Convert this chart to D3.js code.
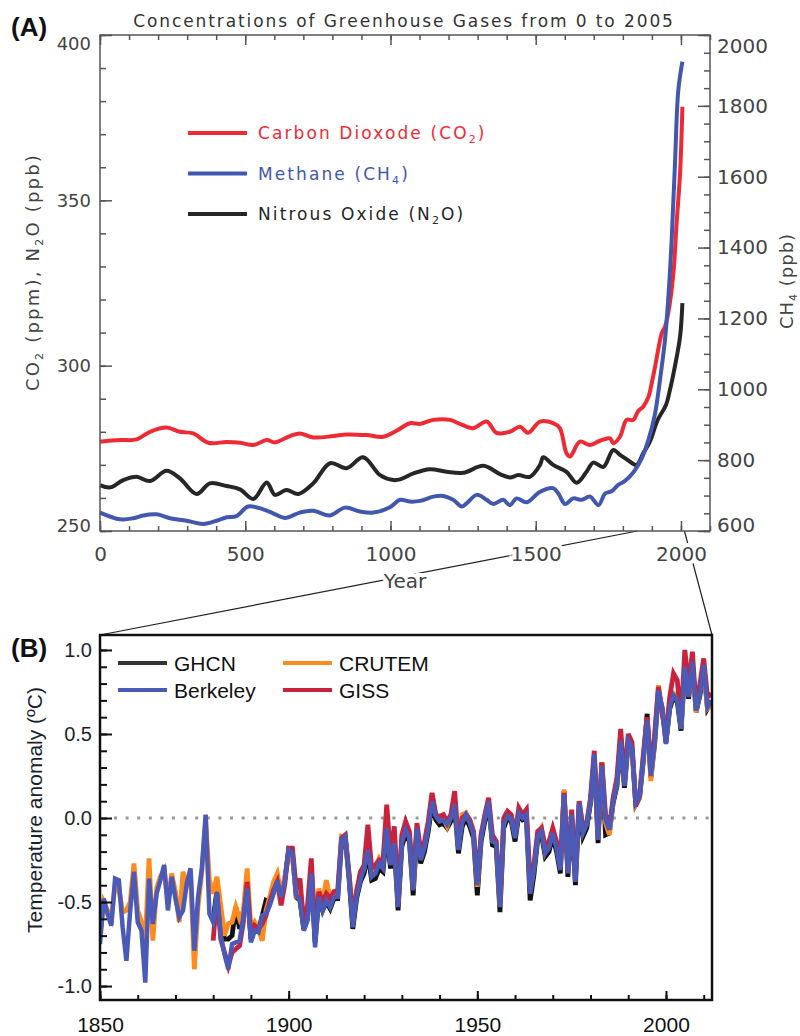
<!DOCTYPE html>
<html>
<head>
<meta charset="utf-8">
<style>
  body { margin: 0; background: #fff; }
</style>
<title>Greenhouse gases and temperature</title>
</head>
<body>
<script src="https://cdn.jsdelivr.net/npm/d3@7"></script>
<script>

// ---- Panel A data ----
var co2Year = [0,69,126,172,229,275,321,373,436,482,528,574,602,654,688,734,803,849,918,975,
  1021,1067,1102,1147,1205,1239,1285,1331,1365,1411,1446,1474,1515,1560,1583,1606,1618,1652,1687,1721,
  1756,1767,1790,1813,1836,1853,1870,1888,1900,1911,1934,1945,1956,1974,1985,1997,2005];
var co2Value = [277.0,277.5,277.7,280.0,281.3,280.0,279.5,276.7,276.9,276.7,276.0,277.5,276.8,278.7,279.5,278.3,278.7,279.2,279.0,278.5,
  280.3,282.6,282.4,283.6,283.6,282.4,281.1,283.1,279.7,280.0,281.5,279.7,283.1,282.6,281.1,273.5,272.5,277.0,276.0,277.3,
  278.0,276.5,278.5,283.6,283.6,286.3,287.6,290.5,295.0,299.7,309.8,311.8,315.8,327.9,343.0,358.2,378.3];

var ch4Year = [0,69,115,149,195,241,298,356,401,436,470,510,562,596,636,688,734,792,843,895,
  941,998,1033,1067,1102,1147,1182,1216,1245,1262,1297,1331,1354,1388,1411,1434,1469,1515,1560,1578,
  1601,1629,1658,1687,1716,1739,1761,1784,1805,1836,1865,1888,1910,1930,1945,1956,1968,1979,1991,2005];
var ch4Value = [652,633,636,644,647,636,629,620,629,639,642,669,661,650,637,652,657,644,666,655,
  652,667,688,683,685,697,699,688,669,678,702,688,676,688,673,692,681,711,721,706,
  676,692,688,697,673,706,712,730,740,765,805,857,928,1040,1139,1252,1421,1628,1845,1925];

var n2oYear = [0,35,80,126,172,229,275,333,378,436,482,528,574,602,642,683,734,792,849,906,
  964,1010,1033,1079,1136,1193,1251,1320,1377,1411,1440,1480,1515,1526,1560,1606,1641,1675,1698,1733,
  1767,1790,1813,1847,1870,1893,1920,1948,1962,1979,1997,2005];
var n2oValue = [263.9,263.2,265.4,266.4,265.1,268.2,265.9,261.2,264.4,263.6,262.6,259.7,264.7,260.9,262.4,261.2,264.4,270.5,269.0,272.3,
  266.9,265.4,265.6,267.4,268.7,267.9,267.6,269.7,267.2,266.2,266.9,266.4,270.0,272.3,270.0,267.9,264.6,267.9,270.7,269.4,
  274.5,273.0,271.7,270.0,273.5,277.0,283.6,288.0,292.6,299.7,308.8,318.9];

var aLeftTicks = [250, 300, 350, 400];
var aRightTicks = [600, 800, 1000, 1200, 1400, 1600, 1800, 2000];
var aYearTicks = [0, 500, 1000, 1500, 2000];

// ---- Panel B data: annual anomalies (ºC) ----
var berkeleyStart = 1850;
var berkeley = [
  -0.75,-0.48,-0.57,-0.64,-0.36,-0.37,-0.65,-0.85,-0.55,-0.32,
  -0.62,-0.67,-0.98,-0.36,-0.63,-0.45,-0.37,-0.28,-0.55,-0.35,
  -0.48,-0.59,-0.55,-0.39,-0.30,-0.79,-0.47,-0.30,0.02,-0.57,
  -0.62,-0.44,-0.70,-0.81,-0.90,-0.75,-0.74,-0.73,-0.59,-0.42,
  -0.74,-0.67,-0.68,-0.58,-0.57,-0.52,-0.45,-0.37,-0.47,-0.37,
  -0.19,-0.21,-0.46,-0.49,-0.67,-0.61,-0.33,-0.77,-0.47,-0.55,
  -0.49,-0.53,-0.47,-0.47,-0.13,-0.11,-0.35,-0.65,-0.47,-0.37,
  -0.30,-0.19,-0.35,-0.33,-0.27,-0.30,-0.06,-0.28,-0.15,-0.53,
  -0.15,-0.07,-0.12,-0.43,-0.06,-0.25,-0.18,-0.06,0.10,0.01,
  -0.02,-0.01,-0.04,0.00,0.08,-0.19,-0.03,0.02,-0.03,-0.10,
  -0.40,-0.12,0.00,0.10,-0.14,-0.15,-0.53,-0.04,0.01,0.00,
  -0.12,0.03,0.00,0.02,-0.45,-0.32,-0.11,-0.08,-0.21,-0.18,
  -0.09,-0.18,-0.31,0.14,-0.33,0.02,-0.38,0.09,-0.09,-0.04,
  0.10,0.38,-0.13,0.31,-0.01,-0.07,0.10,0.20,0.46,0.19,
  0.46,0.42,0.09,0.13,0.35,0.58,0.25,0.45,0.76,0.66,
  0.44,0.66,0.73,0.70,0.53,0.90,0.72,0.93,0.64,0.74,
  0.91,0.66,0.70];

var crutemStart = 1850;
var crutem = [
  -0.70,-0.50,-0.55,-0.60,-0.40,-0.42,-0.56,-0.55,-0.50,-0.27,
  -0.55,-0.62,-0.73,-0.24,-0.73,-0.42,-0.35,-0.31,-0.50,-0.33,
  -0.44,-0.62,-0.32,-0.40,-0.33,-0.90,-0.52,-0.32,-0.02,-0.37,
  -0.45,-0.35,-0.52,-0.70,-0.63,-0.62,-0.53,-0.60,-0.55,-0.30,
  -0.66,-0.62,-0.66,-0.73,-0.55,-0.47,-0.38,-0.33,-0.45,-0.35,
  -0.22,-0.24,-0.45,-0.42,-0.60,-0.58,-0.30,-0.63,-0.42,-0.50,
  -0.37,-0.48,-0.44,-0.45,-0.11,-0.12,-0.33,-0.58,-0.43,-0.35,
  -0.30,-0.14,-0.32,-0.30,-0.24,-0.27,-0.05,-0.26,-0.12,-0.50,
  -0.12,-0.05,-0.10,-0.42,-0.05,-0.22,-0.16,-0.04,0.14,0.02,
  0.00,0.00,-0.05,0.01,0.09,-0.17,0.02,0.03,-0.02,-0.09,
  -0.41,-0.10,0.01,0.09,-0.13,-0.14,-0.52,-0.02,0.03,0.00,
  -0.10,0.04,0.01,0.03,-0.42,-0.29,-0.10,-0.06,-0.20,-0.15,
  -0.08,-0.16,-0.29,0.17,-0.31,0.03,-0.36,0.10,-0.07,-0.03,
  0.11,0.37,-0.12,0.33,-0.03,-0.10,0.11,0.21,0.47,0.21,
  0.47,0.41,0.08,0.12,0.36,0.59,0.22,0.46,0.79,0.63,
  0.46,0.68,0.74,0.72,0.55,0.88,0.73,0.91,0.63,0.76,
  0.89,0.65,0.67];

var ghcnStart = 1880;
var ghcn = [
  -0.60,-0.43,-0.66,-0.72,-0.72,-0.70,-0.53,-0.66,-0.57,-0.41,
  -0.72,-0.66,-0.67,-0.58,-0.49,-0.50,-0.44,-0.36,-0.46,-0.36,
  -0.19,-0.21,-0.47,-0.49,-0.66,-0.60,-0.33,-0.74,-0.47,-0.55,
  -0.50,-0.54,-0.48,-0.48,-0.15,-0.12,-0.36,-0.66,-0.48,-0.38,
  -0.33,-0.21,-0.37,-0.36,-0.30,-0.32,-0.08,-0.30,-0.17,-0.55,
  -0.17,-0.09,-0.14,-0.46,-0.08,-0.27,-0.20,-0.08,0.08,-0.01,
  -0.04,-0.03,-0.06,-0.02,0.06,-0.21,-0.05,0.00,-0.05,-0.12,
  -0.46,-0.14,-0.02,0.08,-0.16,-0.17,-0.56,-0.06,0.00,-0.02,
  -0.14,0.02,-0.01,0.00,-0.49,-0.34,-0.13,-0.10,-0.23,-0.20,
  -0.11,-0.20,-0.33,0.16,-0.35,0.01,-0.40,0.08,-0.11,-0.06,
  0.09,0.36,-0.15,0.33,-0.10,-0.09,0.09,0.19,0.45,0.18,
  0.45,0.41,0.08,0.12,0.34,0.62,0.24,0.44,0.75,0.65,
  0.45,0.65,0.72,0.69,0.52,0.89,0.71,0.92,0.63,0.73,
  0.90,0.65,0.69];

var gissStart = 1880;
var giss = [
  -0.73,-0.45,-0.72,-0.80,-0.88,-0.80,-0.78,-0.76,-0.62,-0.38,
  -0.70,-0.64,-0.66,-0.63,-0.58,-0.50,-0.43,-0.38,-0.52,-0.39,
  -0.18,-0.18,-0.42,-0.36,-0.64,-0.52,-0.24,-0.70,-0.44,-0.50,
  -0.45,-0.48,-0.44,-0.43,-0.12,-0.10,-0.33,-0.60,-0.44,-0.32,
  -0.28,-0.04,-0.30,-0.28,-0.25,-0.26,0.08,-0.22,-0.05,-0.48,
  -0.10,-0.02,-0.08,-0.38,-0.03,-0.20,-0.14,-0.02,0.15,0.02,
  0.01,0.02,-0.02,0.02,0.16,-0.14,0.00,0.02,-0.01,-0.08,
  -0.38,-0.10,0.02,0.12,-0.10,-0.14,-0.50,0.00,0.04,0.02,
  -0.10,0.06,0.02,0.05,-0.38,-0.28,-0.08,-0.06,-0.17,-0.14,
  -0.06,-0.14,-0.28,0.15,-0.30,0.05,-0.35,0.10,-0.06,-0.03,
  0.12,0.40,-0.10,0.33,0.02,-0.05,0.12,0.24,0.53,0.22,
  0.50,0.45,0.07,0.13,0.38,0.60,0.28,0.50,0.78,0.62,
  0.50,0.72,0.86,0.82,0.58,1.00,0.78,0.99,0.66,0.80,
  0.95,0.72,0.74];

var bYTicks = [-1.0, -0.5, 0.0, 0.5, 1.0];
var bXTicks = [1850, 1900, 1950, 2000];

// ---- Layout ----
var A = {left: 100, right: 710, top: 35, bottom: 531};
var B = {left: 100, right: 712, top: 635, bottom: 1000};
var fontA = '"DejaVu Sans", sans-serif';
var fontB = '"Liberation Sans", Arial, sans-serif';

var svg = d3.select("body").append("svg")
    .attr("width", 800)
    .attr("height", 1036);

// Scales
var xA = d3.scaleLinear().domain([0, 2100]).range([A.left, A.right]);
var yL = d3.scaleLinear().domain([250, 400]).range([A.bottom, A.top]);
var yR = d3.scaleLinear().domain([600, 2000]).range([A.bottom, A.top]);
var xB = d3.scaleLinear().domain([1850, 2012.2]).range([B.left, B.right]);
var yB = d3.scaleLinear().domain([-1.083, 1.089]).range([B.bottom, B.top]);

// ticks: one call for the short ones, one for the long ones with labels
function ticks(g, axisFn, scale, minor, major, minorLen, majorLen, pad, fmt) {
  g.append("g").call(axisFn(scale).tickValues(minor).tickSize(-minorLen).tickFormat(""))
    .call(s => s.select(".domain").remove());
  return g.append("g").call(axisFn(scale).tickValues(major).tickSize(-majorLen).tickPadding(pad).tickFormat(fmt))
    .call(s => s.select(".domain").remove());
}

// ---- Zoom lines from A to B (drawn first, labels sit on top) ----
svg.append("line")
    .attr("x1", xA(1850)).attr("y1", A.bottom)
    .attr("x2", B.left).attr("y2", B.top)
    .attr("stroke", "#222").attr("stroke-width", 1.2);
svg.append("line")
    .attr("x1", xA(2012)).attr("y1", A.bottom)
    .attr("x2", B.right).attr("y2", B.top)
    .attr("stroke", "#222").attr("stroke-width", 1.2);

// ================= Panel A =================
var gA = svg.append("g");

var line = d3.line().curve(d3.curveCatmullRom);

function seriesA(years, values, y, color) {
  gA.append("path")
    .attr("d", line(years.map((yr, i) => [xA(yr), y(values[i])])))
    .attr("fill", "none")
    .attr("stroke", color)
    .attr("stroke-width", 4)
    .attr("stroke-linejoin", "round")
    .attr("stroke-linecap", "butt");
}
seriesA(n2oYear, n2oValue, yL, "#262626");
seriesA(co2Year, co2Value, yL, "#ee2b35");
seriesA(ch4Year, ch4Value, yR, "#4257ae");

// frame
gA.append("rect")
    .attr("x", A.left).attr("y", A.top)
    .attr("width", A.right - A.left).attr("height", A.bottom - A.top)
    .attr("fill", "none").attr("stroke", "#555").attr("stroke-width", 1.5);

var axisColor = "#555";

var botA = gA.append("g").attr("transform", `translate(0,${A.bottom})`);
var botALab = ticks(botA, d3.axisBottom, xA, d3.range(0, 2101, 100), aYearTicks, 5, 10, 16, d3.format("d"));
var topA = gA.append("g").attr("transform", `translate(0,${A.top})`);
ticks(topA, d3.axisTop, xA, d3.range(0, 2101, 100), aYearTicks, 5, 10, 4, "");
var lefA = gA.append("g").attr("transform", `translate(${A.left},0)`);
var lefALab = ticks(lefA, d3.axisLeft, yL, d3.range(250, 401, 10), aLeftTicks, 6, 12, 9, d3.format("d"));
var rigA = gA.append("g").attr("transform", `translate(${A.right},0)`);
var rigALab = ticks(rigA, d3.axisRight, yR, d3.range(600, 2001, 50), aRightTicks, 6, 12, 7, d3.format("d"));

[botA, topA, lefA, rigA].forEach(g => g.selectAll("line").attr("stroke", axisColor).attr("stroke-width", 1.5));

botALab.selectAll("text")
    .style("font-family", fontA).style("font-size", "20px").attr("fill", "#444")
    .attr("stroke", "#fff").attr("stroke-width", 8).attr("paint-order", "stroke");
lefALab.selectAll("text")
    .style("font-family", fontA).style("font-size", "18px").attr("fill", "#444")
    .attr("dy", d => d == 400 ? "0.78em" : d == 250 ? "0em" : "0.32em");
rigALab.selectAll("text")
    .style("font-family", fontA).style("font-size", "20px").attr("fill", "#444")
    .attr("dy", d => d == 2000 ? "0.85em" : d == 600 ? "0em" : "0.32em");

// "Year" sits on the zoom line
svg.append("text")
    .attr("x", 405).attr("y", 588)
    .attr("text-anchor", "middle")
    .style("font-family", fontA).style("font-size", "20px")
    .attr("fill", "#444")
    .attr("stroke", "#fff").attr("stroke-width", 8).attr("paint-order", "stroke")
    .text("Year");

// title + panel letter
svg.append("text")
    .attr("x", 404).attr("y", 27)
    .attr("text-anchor", "middle")
    .style("font-family", fontA).style("font-size", "17px")
    .style("letter-spacing", "1.9px")
    .attr("fill", "#333")
    .text("Concentrations of Greenhouse Gases from 0 to 2005");

svg.append("text")
    .attr("x", 11).attr("y", 36)
    .style("font-family", fontB).style("font-size", "26px").style("font-weight", "bold")
    .attr("fill", "#111")
    .text("(A)");

// text with subscripts: parts = [[string, isSub], ...]; a sub part is always followed by a normal one
function subText(sel, parts, subSize) {
  var shift = 0;
  parts.forEach(p => {
    var t = sel.append("tspan").text(p[0]);
    if (p[1]) {
      t.attr("dy", 4).style("font-size", subSize);
      shift = -4;
    } else if (shift) {
      t.attr("dy", shift);
      shift = 0;
    }
  });
  return sel;
}

// axis titles
subText(svg.append("text")
    .attr("transform", "translate(39,272) rotate(-90)")
    .attr("text-anchor", "middle")
    .style("font-family", fontA).style("font-size", "18px")
    .style("letter-spacing", "2.2px")
    .attr("fill", "#444"),
  [["CO", false], ["2", true], [" (ppm), N", false], ["2", true], ["O (ppb)", false]], "11px");

subText(svg.append("text")
    .attr("transform", "translate(793,281) rotate(-90)")
    .attr("text-anchor", "middle")
    .style("font-family", fontA).style("font-size", "18px")
    .style("letter-spacing", "1px")
    .attr("fill", "#444"),
  [["CH", false], ["4", true], [" (ppb)", false]], "11px");

// legend A
var legA = [
  {parts: [["Carbon Dioxode (CO", false], ["2", true], [")", false]], color: "#ee2b35"},
  {parts: [["Methane (CH", false], ["4", true], [")", false]], color: "#4257ae"},
  {parts: [["Nitrous Oxide (N", false], ["2", true], ["O)", false]], color: "#262626"}
];
legA.forEach((d, i) => {
  var yy = 133 + i * 40.5;
  svg.append("line")
      .attr("x1", 188).attr("x2", 247).attr("y1", yy).attr("y2", yy)
      .attr("stroke", d.color).attr("stroke-width", 4);
  subText(svg.append("text")
      .attr("x", 258).attr("y", yy + 6)
      .style("font-family", fontA).style("font-size", "17px")
      .style("letter-spacing", "2.1px")
      .attr("fill", d.color),
    d.parts, "11px");
});

// ================= Panel B =================
var gB = svg.append("g");

gB.append("clipPath").attr("id", "clipB")
  .append("rect")
    .attr("x", B.left).attr("y", B.top)
    .attr("width", B.right - B.left).attr("height", B.bottom - B.top);

// zero line
gB.append("line")
    .attr("x1", B.left + 14).attr("x2", B.right)
    .attr("y1", yB(0)).attr("y2", yB(0))
    .attr("stroke", "#999").attr("stroke-width", 3)
    .attr("stroke-dasharray", "3,8.6");

var lineB = d3.line();
function seriesB(start, values, color, width) {
  gB.append("path")
    .attr("clip-path", "url(#clipB)")
    .attr("d", lineB(values.map((v, i) => [xB(start + i), yB(v)])))
    .attr("fill", "none")
    .attr("stroke", color)
    .attr("stroke-width", width)
    .attr("stroke-linejoin", "miter");
}
seriesB(ghcnStart, ghcn, "#111", 4.8);
seriesB(crutemStart, crutem, "#ff8a1e", 4.8);
seriesB(gissStart, giss, "#c8223c", 4.8);
seriesB(berkeleyStart, berkeley, "#4a5ab6", 4.5);

// frame
gB.append("rect")
    .attr("x", B.left).attr("y", B.top)
    .attr("width", B.right - B.left).attr("height", B.bottom - B.top)
    .attr("fill", "none").attr("stroke", "#111").attr("stroke-width", 2.5);

var lefB = gB.append("g").attr("transform", `translate(${B.left},0)`);
var lefBLab = ticks(lefB, d3.axisLeft, yB, d3.range(-10, 11).map(d => d / 10), bYTicks, 7, 12, 8, d3.format(".1f"));
var botB = gB.append("g").attr("transform", `translate(0,${B.bottom})`);
var botBLab = ticks(botB, d3.axisBottom, xB, d3.range(1850, 2011, 10), bXTicks, 5, 9, 17, d3.format("d"));

[lefB, botB].forEach(g => g.selectAll("line").attr("stroke", "#111").attr("stroke-width", 2));
lefBLab.selectAll("text")
    .style("font-family", fontB).style("font-size", "20px").attr("fill", "#1c1f2e")
    .text(d => d3.format(".1f")(d).replace("\u2212", "-"));
botBLab.selectAll("text")
    .style("font-family", fontB).style("font-size", "21px").attr("fill", "#111");

svg.append("text")
    .attr("transform", "translate(42,810) rotate(-90)")
    .attr("text-anchor", "middle")
    .style("font-family", fontB).style("font-size", "21px")
    .attr("fill", "#1c1f2e")
    .text("Temperature anomaly (\u00baC)");

svg.append("text")
    .attr("x", 11).attr("y", 657)
    .style("font-family", fontB).style("font-size", "26px").style("font-weight", "bold")
    .attr("fill", "#111")
    .text("(B)");

// legend B
var legB = [
  {name: "GHCN", color: "#333", x: 118, y: 663},
  {name: "Berkeley", color: "#4a5ab6", x: 118, y: 690},
  {name: "CRUTEM", color: "#ff8a1e", x: 283, y: 663},
  {name: "GISS", color: "#c8223c", x: 283, y: 690}
];
legB.forEach(d => {
  svg.append("line")
      .attr("x1", d.x).attr("x2", d.x + 49).attr("y1", d.y).attr("y2", d.y)
      .attr("stroke", d.color).attr("stroke-width", 4);
  svg.append("text")
      .attr("x", d.x + 56).attr("y", d.y + 7.5)
      .style("font-family", fontB).style("font-size", "21px")
      .attr("fill", "#111")
      .text(d.name);
});

</script>
</body>
</html>
